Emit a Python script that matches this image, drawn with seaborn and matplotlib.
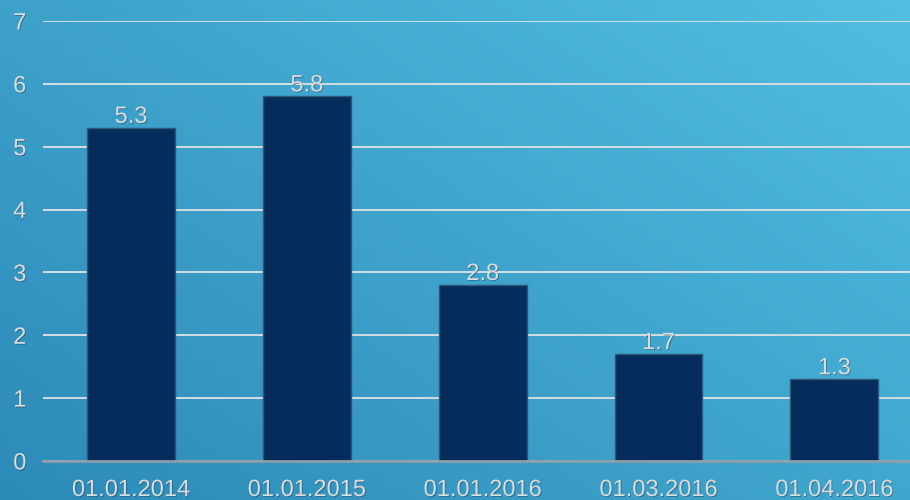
import numpy as np
import pandas as pd
import matplotlib.pyplot as plt
import matplotlib.patheffects as pe
import seaborn as sns

# Chart data
dates = ["01.01.2014", "01.01.2015", "01.01.2016", "01.03.2016", "01.04.2016"]
values = [5.3, 5.8, 2.8, 1.7, 1.3]
df = pd.DataFrame({"date": dates, "value": values})

plt.rcParams['font.family'] = ['Liberation Sans', 'DejaVu Sans']
text_color = '#dcdcdc'
shadow = [pe.withSimplePatchShadow(offset=(0.6, -0.6), shadow_rgbFace='#1b4a66', alpha=0.6)]

fig = plt.figure(figsize=(9.1, 5), dpi=100)

# Diagonal gradient background (darker bottom-left, lighter top-right)
bg = fig.add_axes([0, 0, 1, 1], zorder=0)
gx, gy = np.meshgrid(np.linspace(0, 1, 300), np.linspace(0, 1, 200))
t = (gx * 0.55 + gy * 0.45)
c0 = np.array([44, 138, 184]) / 255
c1 = np.array([82, 190, 224]) / 255
img = c0[None, None, :] * (1 - t[..., None]) + c1[None, None, :] * t[..., None]
bg.imshow(img, origin='lower', aspect='auto', extent=[0, 1, 0, 1])
bg.axis('off')

ax = fig.add_axes([0.0473, 0.078, 0.9527, 0.88], zorder=1)
ax.patch.set_alpha(0)

sns.barplot(data=df, x="date", y="value", color='#062c5c', width=0.5,
            edgecolor='#2f5677', linewidth=1, saturation=1, ax=ax, zorder=3)

ax.set_ylim(0, 7)
ax.set_xlim(-0.5, 4.43)
ax.set_yticks(range(0, 8))
ax.yaxis.grid(True, color='#dfe3e6', linewidth=1.3, zorder=1)
ax.set_axisbelow(True)
for s in ['top', 'right', 'left']:
    ax.spines[s].set_visible(False)
ax.spines['bottom'].set_color('#8e9ea8')
ax.spines['bottom'].set_linewidth(2)
ax.spines['bottom'].set_zorder(4)
ax.tick_params(axis='both', length=0, colors=text_color, labelsize=17)
ax.tick_params(axis='y', pad=12)
ax.tick_params(axis='x', pad=13)
for lab in ax.get_xticklabels() + ax.get_yticklabels():
    lab.set_path_effects(shadow)
ax.set_xlabel("")
ax.set_ylabel("")

for i, v in enumerate(values):
    ax.annotate(f"{v}", (i, v), xytext=(0, 0), textcoords='offset points',
                ha='center', va='bottom', color=text_color, fontsize=17,
                path_effects=shadow, zorder=5)

fig.savefig("out.png", dpi=100)
